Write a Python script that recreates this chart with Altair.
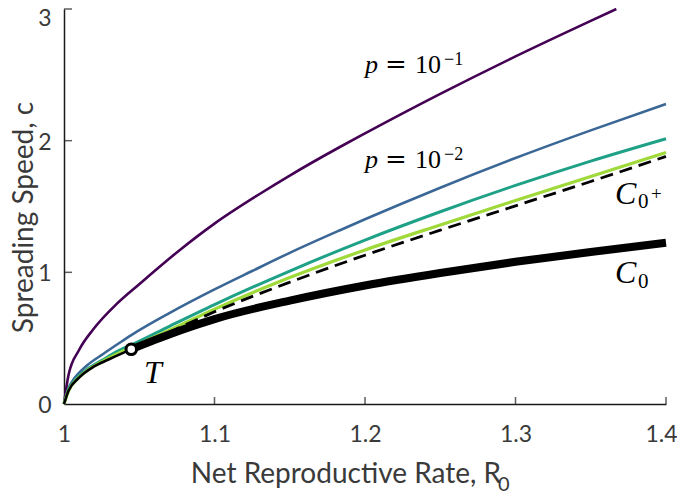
import altair as alt
import pandas as pd

# ---------------- data ----------------
x_ticks = [1.0, 1.1, 1.2, 1.3, 1.4]
y_ticks = [0, 1, 2, 3]

purple_R0 = [1.0, 1.003, 1.01, 1.02, 1.035, 1.05, 1.077, 1.1, 1.13, 1.15, 1.183, 1.2, 1.25, 1.3, 1.35, 1.367]
purple_c = [0.0, 0.22, 0.41, 0.575, 0.76, 0.91, 1.17, 1.37, 1.595, 1.735, 1.95, 2.055, 2.355, 2.64, 2.91, 3.0]

blue_R0 = [1.0, 1.003, 1.006, 1.015, 1.026, 1.037, 1.045, 1.07, 1.1, 1.125, 1.15, 1.183, 1.2, 1.25, 1.3, 1.35, 1.4]
blue_c = [0.0, 0.12, 0.18, 0.29, 0.38, 0.465, 0.525, 0.69, 0.87, 1.01, 1.148, 1.318, 1.403, 1.643, 1.868, 2.078, 2.278]

teal_R0 = [1.0, 1.003, 1.008, 1.015, 1.025, 1.037, 1.045, 1.07, 1.1, 1.15, 1.2, 1.25, 1.3, 1.35, 1.4]
teal_c = [0.0, 0.11, 0.19, 0.26, 0.33, 0.41, 0.45, 0.59, 0.755, 1.01, 1.245, 1.46, 1.66, 1.845, 2.015]

green_R0 = [1.0, 1.003, 1.008, 1.015, 1.025, 1.037, 1.0447, 1.07, 1.1, 1.15, 1.2, 1.25, 1.3, 1.35, 1.4]
green_c = [0.0, 0.1, 0.18, 0.25, 0.32, 0.39, 0.43, 0.56, 0.72, 0.96, 1.17, 1.36, 1.545, 1.728, 1.91]

c0plus_R0 = [1.0447, 1.07, 1.1, 1.15, 1.2, 1.25, 1.3, 1.35, 1.4]
c0plus_c = [0.415, 0.545, 0.70, 0.925, 1.13, 1.32, 1.505, 1.69, 1.88]

c0_thin_R0 = [1.0, 1.003, 1.01, 1.02, 1.03, 1.0447]
c0_thin_c = [0.0, 0.1, 0.2, 0.285, 0.34, 0.415]

c0_R0 = [1.0447, 1.06, 1.08, 1.1, 1.15, 1.2, 1.25, 1.3, 1.35, 1.4]
c0_c = [0.415, 0.485, 0.57, 0.645, 0.785, 0.9, 0.995, 1.08, 1.155, 1.225]

T_R0 = [1.0447]
T_c = [0.415]

# annotation pieces: italic main symbols
ital_text = ["p", "p", "C", "C", "T"]
ital_R0 = [1.2000, 1.2000, 1.3661, 1.3661, 1.0532]
ital_c = [2.511, 1.790, 1.519, 0.919, 0.159]
ital_size = [26, 26, 32, 32, 32]

# equals signs
eq_text = ["=", "="]
eq_R0 = [1.2133, 1.2133]
eq_c = [2.511, 1.790]

# upright pieces (numbers, subscripts, superscripts)
rom_text = ["10", "\u22121", "10", "\u22122", "0", "+", "0"]
rom_R0 = [1.2332, 1.2525, 1.2332, 1.2525, 1.3814, 1.3900, 1.3814]
rom_c = [2.511, 2.575, 1.790, 1.853, 1.486, 1.549, 0.881]
rom_size = [26, 18, 26, 18, 21, 19, 21]

# x-axis title pieces
xt_text = ["Net Reproductive Rate, R"]
xt_R0 = [1.2904]
xt_c = [-0.600]
xsub_text = ["0"]
xsub_R0 = [1.2884]
xsub_c = [-0.661]

# ---------------- chart ----------------
AX_COL = "#3a3a3a"
xscale = alt.Scale(domain=[1.0, 1.4], nice=False, zero=False)
yscale = alt.Scale(domain=[0, 3], nice=False, zero=False)

X = alt.X("R0:Q", scale=xscale,
          axis=alt.Axis(values=x_ticks, format="~g", title=None, grid=False,
                        ticks=False, tickSize=0, labelPadding=19, labelFlush=False,
                        labelOffset={"condition": {"test": "datum.value == 1.4", "value": -5}, "value": 0},
                        labelFont="Lato", labelFontSize=23, labelColor=AX_COL,
                        domainColor="#1a1a1a", domainWidth=1.5))
Y = alt.Y("c:Q", scale=yscale,
          axis=alt.Axis(values=y_ticks, title="Spreading Speed, c", grid=False,
                        ticks=False, tickSize=0, labelPadding=13, labelFlush=False,
                        labelOffset={"condition": {"test": "datum.value == 3", "value": 9}, "value": 1.5},
                        labelFont="Lato", labelFontSize=23, labelColor=AX_COL,
                        domainColor="#1a1a1a", domainWidth=1.5,
                        titleFont="Lato", titleFontSize=28, titleFontWeight="normal",
                        titleColor=AX_COL, titleAngle=-90, titleX=-32, titleY=208,
                        titleAlign="center", titleBaseline="alphabetic"))


def frame(xs, ys, **extra):
    d = {"R0": xs, "c": ys}
    d.update(extra)
    return pd.DataFrame(d)


def base(df):
    return alt.Chart(df).encode(x=X, y=Y)


def line(xs, ys, color, width, dash=None):
    kw = dict(color=color, strokeWidth=width, interpolate="monotone", strokeCap="butt")
    if dash:
        kw["strokeDash"] = dash
    return base(frame(xs, ys)).mark_line(**kw)


def texts(xs, ys, labels, sizes, **kw):
    return base(frame(xs, ys, t=labels, s=sizes)).mark_text(
        align="left", baseline="alphabetic", color="black", **kw
    ).encode(text="t:N", size=alt.Size("s:Q", scale=None, legend=None))


layers = [
    line(purple_R0, purple_c, "#440154", 2.6),
    line(blue_R0, blue_c, "#3b6796", 2.6),
    line(teal_R0, teal_c, "#1fa187", 3.0),
    line(green_R0, green_c, "#9fd93a", 3.2),
    line(c0_thin_R0, c0_thin_c, "#000000", 2.6),
    line(c0_R0, c0_c, "#000000", 8.0),
    line(c0plus_R0, c0plus_c, "#000000", 2.8, dash=[13, 7]),
    base(frame(T_R0, T_c)).mark_point(shape="circle", filled=True, fill="white",
                                      stroke="black", strokeWidth=3, size=110, opacity=1),
    # inward ticks
    base(frame(x_ticks[1:], [0] * 4)).mark_tick(orient="vertical", size=7, thickness=1.5,
                                                color="#1a1a1a", yOffset=-3.5),
    base(frame([1.0] * 3, y_ticks[1:])).mark_tick(orient="horizontal", size=8, thickness=1.5,
                                                  color="#1a1a1a", xOffset=4),
    texts(ital_R0, ital_c, ital_text, ital_size, font="Liberation Serif", fontStyle="italic"),
    texts(eq_R0, eq_c, eq_text, [26, 26], font="DejaVu Serif"),
    texts(rom_R0, rom_c, rom_text, rom_size, font="Liberation Serif"),
    base(frame(xt_R0, xt_c, t=xt_text)).mark_text(
        align="right", baseline="alphabetic", font="Lato", fontSize=28,
        color=AX_COL).encode(text="t:N"),
    base(frame(xsub_R0, xsub_c, t=xsub_text)).mark_text(
        align="left", baseline="alphabetic", font="Lato", fontSize=20,
        color=AX_COL).encode(text="t:N"),
]

chart = alt.layer(*layers).properties(
    width=602, height=395,
    autosize=alt.AutoSizeParams(type="none"),
    padding={"left": 56, "top": 1, "right": 11, "bottom": 89},
).configure_view(stroke=None)

chart.save("out.html", embed_options={"renderer": "svg", "actions": False})
